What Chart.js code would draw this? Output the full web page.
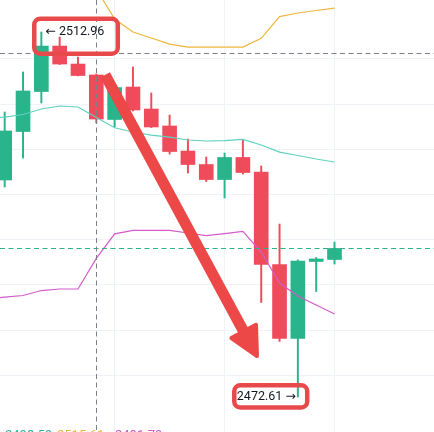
<!DOCTYPE html>
<html>
<head>
<meta charset="utf-8">
<script src="https://cdn.jsdelivr.net/npm/chart.js@4/dist/chart.umd.min.js"></script>
<style>
html,body{margin:0;padding:0;background:#ffffff;}
#wrap{width:434px;height:432px;position:relative;}
</style>
</head>
<body>
<div id="wrap"><canvas id="c"></canvas></div>
<script>
// ---- data ----
const candleIndex = [0,1,2,3,4,5,6,7,8,9,10,11,12,13,14,15,16,17,18];
const opens  = [2496.60,2501.96,2506.38,2511.41,2509.42,2508.21,2503.29,2506.88,2504.45,2502.57,2499.80,2498.31,2496.65,2499.09,2497.48,2487.26,2479.08,2487.59,2487.81];
const closes = [2502.02,2506.44,2511.41,2509.42,2508.15,2503.34,2506.82,2504.34,2502.46,2499.75,2498.31,2496.65,2499.09,2497.43,2487.26,2479.08,2487.64,2487.87,2489.03];
const highs  = [2504.12,2508.54,2512.96,2512.41,2510.20,2508.32,2506.88,2509.09,2506.22,2503.78,2501.13,2499.14,2499.58,2501.08,2498.15,2491.73,2487.76,2488.03,2489.74];
const lows   = [2495.83,2499.03,2505.11,2509.37,2508.10,2502.90,2502.46,2504.23,2502.40,2499.47,2497.37,2496.43,2494.61,2497.26,2483.06,2478.75,2472.61,2484.27,2487.31];

const bandIndex  = [-1,0,1,2,3,4,5,6,7,8,9,10,11,12,13,14,15,16,17,18];
const upperBand  = [2521.5,2521.8,2522.2,2522.4,2521.6,2520.0,2517.71,2514.40,2512.96,2512.30,2511.63,2511.30,2511.30,2511.30,2511.30,2512.26,2514.67,2515.06,2515.34,2515.61];
const middleBand = [2503.45,2503.56,2503.84,2504.45,2504.78,2504.67,2503.52,2502.37,2501.91,2501.57,2501.35,2501.02,2500.91,2500.96,2501.08,2500.47,2499.69,2499.31,2498.92,2498.59];
const lowerBand  = [2483.44,2483.66,2483.83,2484.38,2484.55,2484.55,2487.93,2490.65,2491.02,2491.02,2491.02,2490.74,2490.46,2490.68,2490.91,2488.64,2485.21,2483.78,2482.78,2481.79];

const xRange = [-0.2566, 23.43];
const yRange = [2468.74, 2516.50];
const xGridStep = 6;
const yGridStep = 5;

const crosshair = [4.97, 2510.64];          // [index, price]
const arrowFrom = [5.48, 2508.21];          // [index, price]
const arrowTo   = [13.77, 2477.14];
const highBox = [1.613, 2514.42, 6.171, 2510.56]; // x1,y1,x2,y2 (index, price)
const lowBox  = [12.53, 2473.91, 16.51, 2471.45];
const legendValues = ['2498.59','2515.61','2481.79'];

// ---- styles ----
const UP = '#29b48c', DOWN = '#ef4b5a';
const MARK = '#ec4848';
const candleColors = candleIndex.map((_,i)=> closes[i] >= opens[i] ? UP : DOWN);

const hiIdx = highs.indexOf(Math.max(...highs));
const loIdx = lows.indexOf(Math.min(...lows));

const overlay = {
  id: 'overlay',
  afterDatasetsDraw(chart){
    const {ctx, chartArea: a} = chart;
    const X = chart.scales.x, Y = chart.scales.y;
    const px = v => X.getPixelForValue(v), py = v => Y.getPixelForValue(v);
    ctx.save();
    ctx.lineWidth = 1;
    // last price line
    const lp = Math.round(py(closes[closes.length-1])) + 0.5;
    ctx.strokeStyle = UP; ctx.setLineDash([5,3.5]);
    ctx.beginPath(); ctx.moveTo(a.left, lp); ctx.lineTo(a.right, lp); ctx.stroke();
    // crosshair
    ctx.strokeStyle = '#7c808a'; ctx.setLineDash([5,3.5]);
    const cx = Math.round(px(crosshair[0])) + 0.5, cy = Math.round(py(crosshair[1])) + 0.5;
    ctx.beginPath(); ctx.moveTo(cx, a.top); ctx.lineTo(cx, a.bottom); ctx.stroke();
    ctx.beginPath(); ctx.moveTo(a.left, cy); ctx.lineTo(a.right, cy); ctx.stroke();
    ctx.setLineDash([]);

    // high / low labels
    ctx.fillStyle = '#131722';
    ctx.font = '12.5px Roboto, "DejaVu Sans", sans-serif';
    ctx.textBaseline = 'middle';
    ctx.textAlign = 'left';
    ctx.fillText('\u2190 ' + highs[hiIdx].toFixed(2), px(hiIdx) + 4, py(highs[hiIdx]));
    ctx.textAlign = 'right';
    ctx.fillText(lows[loIdx].toFixed(2) + ' \u2192', px(loIdx) - 2, py(lows[loIdx]));

    // big arrow
    const sx = px(arrowFrom[0]), sy = py(arrowFrom[1]);
    const tx = px(arrowTo[0]), ty = py(arrowTo[1]);
    const dx = tx - sx, dy = ty - sy, len = Math.hypot(dx, dy);
    const ux = dx/len, uy = dy/len;
    const headLen = 28, headHalf = 14;
    const bx = tx - ux*headLen, by = ty - uy*headLen;
    ctx.strokeStyle = MARK; ctx.fillStyle = MARK;
    ctx.lineWidth = 11; ctx.lineCap = 'butt';
    ctx.beginPath(); ctx.moveTo(sx, sy); ctx.lineTo(bx + ux*3, by + uy*3); ctx.stroke();
    ctx.lineWidth = 4; ctx.lineJoin = 'round';
    ctx.beginPath();
    ctx.moveTo(tx, ty);
    ctx.lineTo(bx - uy*headHalf, by + ux*headHalf);
    ctx.lineTo(bx + uy*headHalf, by - ux*headHalf);
    ctx.closePath(); ctx.fill(); ctx.stroke();

    // rounded boxes
    const rbox = (b) => {
      const x1 = px(b[0]), y1 = py(b[1]), x2 = px(b[2]), y2 = py(b[3]);
      const r = 6;
      ctx.beginPath();
      ctx.moveTo(x1 + r, y1);
      ctx.lineTo(x2 - r, y1); ctx.arcTo(x2, y1, x2, y1 + r, r);
      ctx.lineTo(x2, y2 - r); ctx.arcTo(x2, y2, x2 - r, y2, r);
      ctx.lineTo(x1 + r, y2); ctx.arcTo(x1, y2, x1, y2 - r, r);
      ctx.lineTo(x1, y1 + r); ctx.arcTo(x1, y1, x1 + r, y1, r);
      ctx.closePath();
      ctx.lineWidth = 4.5; ctx.strokeStyle = '#e84a4c'; ctx.stroke();
    };
    rbox(highBox); rbox(lowBox);

    // legend values cut off at the bottom
    ctx.font = '13px Roboto, sans-serif';
    ctx.textAlign = 'left'; ctx.textBaseline = 'top';
    const legColors = ['#2bb39b', '#f0b33a', '#cf5ac6'];
    const legX = [5, 57, 115];
    legendValues.forEach((t,i) => { ctx.fillStyle = legColors[i]; ctx.fillText(t, legX[i], a.bottom - 2.5); });
    ctx.restore();
  }
};

const lineDs = (vals, color) => ({
  type: 'line',
  data: bandIndex.map((x,i) => ({x, y: vals[i]})),
  borderColor: color, borderWidth: 1.2, pointRadius: 0, tension: 0, fill: false, order: 0
});

new Chart(document.getElementById('c'), {
  type: 'bar',
  data: {
    datasets: [
      lineDs(upperBand, '#f1b53c'),
      lineDs(middleBand, '#5fd2bf'),
      lineDs(lowerBand, '#d45bc9'),
      {
        type: 'bar',
        data: candleIndex.map(i => ({x: i, y: [opens[i], closes[i]]})),
        backgroundColor: candleColors, borderWidth: 0,
        barThickness: 14, grouped: false, order: 1
      },
      {
        type: 'bar',
        data: candleIndex.map(i => ({x: i, y: [lows[i], highs[i]]})),
        backgroundColor: candleColors, borderWidth: 0,
        barThickness: 1.3, grouped: false, order: 2
      }
    ]
  },
  options: {
    responsive: true, maintainAspectRatio: false, animation: false,
    layout: {padding: 0},
    plugins: {legend: {display: false}, tooltip: {enabled: false}},
    scales: {
      x: {
        type: 'linear', min: xRange[0], max: xRange[1], offset: false,
        ticks: {display: false, stepSize: xGridStep},
        grid: {color: '#eff2f6', drawTicks: false, offset: false},
        border: {display: false},
        afterBuildTicks: s => { s.ticks = s.ticks.filter(t => Math.abs(t.value % xGridStep) < 1e-6); }
      },
      y: {
        min: yRange[0], max: yRange[1],
        ticks: {display: false, stepSize: yGridStep},
        grid: {color: '#eff2f6', drawTicks: false},
        border: {display: false},
        afterBuildTicks: s => { s.ticks = s.ticks.filter(t => Math.abs(t.value % yGridStep) < 1e-6); }
      }
    }
  },
  plugins: [overlay]
});
</script>
</body>
</html>
